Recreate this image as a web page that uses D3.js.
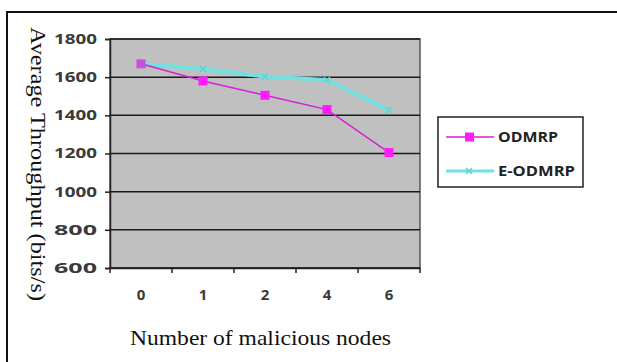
<!DOCTYPE html>
<html>
<head>
<meta charset="utf-8">
<script src="https://cdn.jsdelivr.net/npm/d3@7"></script>
<style>
  body { margin: 0; background: #fff; }
  svg { display: block; }
</style>
</head>
<body>
<div id="chart"></div>
<script>
var categories = ["0", "1", "2", "4", "6"];
var odmrp = [1670, 1580, 1505, 1430, 1205];
var eodmrp = [1670, 1643, 1603, 1585, 1428];
var yTicks = [600, 800, 1000, 1200, 1400, 1600, 1800];
var seriesNames = ["ODMRP", "E-ODMRP"];

var W = 617, H = 362;
var plot = {left: 110, top: 39, right: 420, bottom: 268};

var svg = d3.select("#chart").append("svg")
  .attr("width", W)
  .attr("height", H);

// outer frame (left + top edges only visible)
svg.append("path")
  .attr("d", "M7," + H + "V12H" + W)
  .attr("fill", "none")
  .attr("stroke", "#111")
  .attr("stroke-width", 2);

var x = d3.scaleBand()
  .domain(categories)
  .range([plot.left, plot.right])
  .padding(0);

var y = d3.scaleLinear()
  .domain([600, 1800])
  .range([plot.bottom, plot.top]);

// plot area
svg.append("rect")
  .attr("x", plot.left)
  .attr("y", plot.top)
  .attr("width", plot.right - plot.left)
  .attr("height", plot.bottom - plot.top)
  .attr("fill", "#c0c0c0")
  .attr("stroke", "#555")
  .attr("stroke-width", 1.5);

// gridlines
svg.append("g").selectAll("line")
  .data(yTicks)
  .join("line")
  .attr("x1", plot.left)
  .attr("x2", plot.right)
  .attr("y1", function(d) { return y(d); })
  .attr("y2", function(d) { return y(d); })
  .attr("stroke", "#1a1a1a")
  .attr("stroke-width", 1.5);

// y axis
var yAxis = svg.append("g")
  .attr("transform", "translate(" + plot.left + ",0)")
  .call(d3.axisLeft(y).tickValues(yTicks).tickSize(5).tickPadding(8).tickFormat(d3.format("d")));
yAxis.select(".domain").attr("stroke", "#222").attr("stroke-width", 1.5);
yAxis.selectAll(".tick line").attr("stroke", "#222").attr("stroke-width", 1.5);
yAxis.selectAll(".tick text")
  .attr("font-family", "'Open Sans', sans-serif")
  .attr("font-weight", 700)
  .attr("font-size", 14)
  .attr("fill", "#3a3a3a")
  .attr("textLength", 43)
  .attr("lengthAdjust", "spacingAndGlyphs");

// x axis (labels centred in bands, ticks at band edges)
var xAxis = svg.append("g")
  .attr("transform", "translate(0," + plot.bottom + ")")
  .call(d3.axisBottom(x).tickSize(0).tickPadding(21));
xAxis.select(".domain").attr("stroke", "#222").attr("stroke-width", 1.5);
xAxis.selectAll(".tick text")
  .attr("font-family", "'Open Sans', sans-serif")
  .attr("font-weight", 700)
  .attr("font-size", 15)
  .attr("fill", "#3a3a3a");

var edges = categories.map(function(c) { return x(c); }).concat([plot.right]);
xAxis.append("g").selectAll("line")
  .data(edges)
  .join("line")
  .attr("x1", function(d) { return d; })
  .attr("x2", function(d) { return d; })
  .attr("y1", 0)
  .attr("y2", 5)
  .attr("stroke", "#222")
  .attr("stroke-width", 1.5);

var cx = function(d, i) { return x(categories[i]) + x.bandwidth() / 2; };
var line = d3.line()
  .x(function(d, i) { return cx(d, i); })
  .y(function(d) { return y(d); });

// E-ODMRP
svg.append("path")
  .datum(eodmrp)
  .attr("d", line)
  .attr("fill", "none")
  .attr("stroke", "#72e0e0")
  .attr("stroke-width", 4)
  .attr("stroke-linejoin", "round");
svg.append("g").selectAll("path")
  .data(eodmrp)
  .join("path")
  .attr("d", function(d, i) {
    var px = cx(d, i), py = y(d), s = 3;
    return "M" + (px - s) + "," + (py - s) + "L" + (px + s) + "," + (py + s) +
      "M" + (px - s) + "," + (py + s) + "L" + (px + s) + "," + (py - s);
  })
  .attr("stroke", "#5cd4d4")
  .attr("stroke-width", 1.5);

// ODMRP
svg.append("path")
  .datum(odmrp)
  .attr("d", line)
  .attr("fill", "none")
  .attr("stroke", "#d61fd6")
  .attr("stroke-width", 1.5);
svg.append("g").selectAll("rect")
  .data(odmrp)
  .join("rect")
  .attr("x", function(d, i) { return cx(d, i) - 4.5; })
  .attr("y", function(d) { return y(d) - 4.5; })
  .attr("width", 9)
  .attr("height", 9)
  .attr("fill", function(d, i) { return i === 0 ? "#c94fe0" : "#ff1aff"; });

// axis titles
svg.append("text")
  .attr("x", 130)
  .attr("y", 345)
  .attr("font-family", "'Liberation Serif', 'Times New Roman', serif")
  .attr("font-size", 21)
  .attr("fill", "#111")
  .attr("textLength", 261)
  .attr("lengthAdjust", "spacingAndGlyphs")
  .text("Number of malicious nodes");

svg.append("text")
  .attr("transform", "translate(31,27) rotate(90)")
  .attr("font-family", "'Liberation Serif', 'Times New Roman', serif")
  .attr("font-size", 21)
  .attr("fill", "#111")
  .attr("textLength", 274)
  .attr("lengthAdjust", "spacingAndGlyphs")
  .text("Average Throughput (bits/s)");

// legend
var legend = svg.append("g");
legend.append("rect")
  .attr("x", 438)
  .attr("y", 117)
  .attr("width", 145)
  .attr("height", 70)
  .attr("fill", "#fff")
  .attr("stroke", "#222")
  .attr("stroke-width", 1.5);

var legendRows = [
  {name: seriesNames[0], y: 137, color: "#d61fd6", width: 1.5},
  {name: seriesNames[1], y: 171, color: "#72e0e0", width: 3}
];
legendRows.forEach(function(r, i) {
  legend.append("line")
    .attr("x1", 446).attr("x2", 494)
    .attr("y1", r.y).attr("y2", r.y)
    .attr("stroke", r.color)
    .attr("stroke-width", r.width);
  if (i === 0) {
    legend.append("rect")
      .attr("x", 465).attr("y", r.y - 4.5)
      .attr("width", 9).attr("height", 9)
      .attr("fill", "#ff1aff");
  } else {
    legend.append("path")
      .attr("d", "M466," + (r.y - 3) + "L472," + (r.y + 3) + "M466," + (r.y + 3) + "L472," + (r.y - 3))
      .attr("stroke", "#5cd4d4")
      .attr("stroke-width", 1.5);
  }
  legend.append("text")
    .attr("x", 498)
    .attr("y", r.y + 5)
    .attr("font-family", "'Open Sans', sans-serif")
    .attr("font-weight", 700)
    .attr("font-size", 14)
    .attr("fill", "#222")
    .attr("textLength", i === 0 ? 60 : 77)
    .attr("lengthAdjust", "spacingAndGlyphs")
    .text(r.name);
});
</script>
</body>
</html>
